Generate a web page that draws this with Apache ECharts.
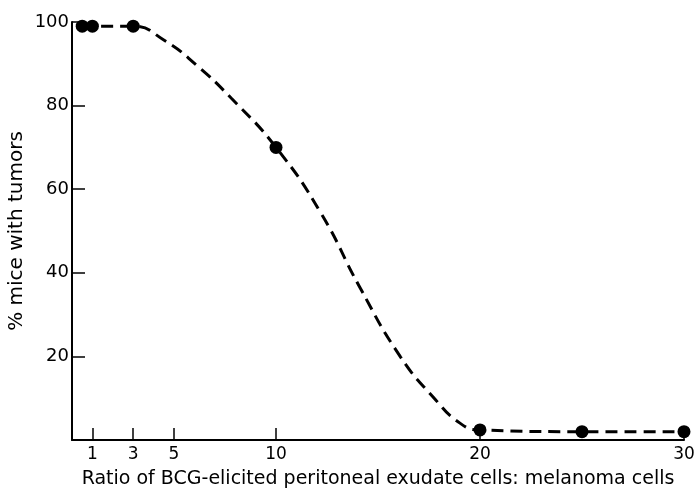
<!DOCTYPE html>
<html>
<head>
<meta charset="utf-8">
<script src="https://cdn.jsdelivr.net/npm/echarts@6/dist/echarts.min.js"></script>
<style>
html, body { margin: 0; padding: 0; background: #fff; }
#main { width: 696px; height: 493px; }
</style>
</head>
<body>
<div id="main"></div>
<script>
// measured points
var ratioX = [0.5, 1, 3, 10, 20, 25, 30];
var pctY = [99, 99, 99, 70, 2.4, 2, 2];
// dashed curve as drawn in the figure
var curveX = [0.5, 3, 4.5, 6.1, 7.8, 10, 12.2, 14.1, 16.1, 17.7, 19, 20, 25, 30];
var curveY = [99, 99, 95.7, 89.7, 81.8, 70, 54.3, 36.6, 19.9, 10.3, 4.1, 2.4, 2, 2];
var xTicks = [1, 3, 5, 10, 20, 30];
var yTicks = [20, 40, 60, 80, 100];

var pts = [];
for (var i = 0; i < ratioX.length; i++) {
	pts.push([ratioX[i], pctY[i]]);
}
var curve = [];
for (var k = 0; k < curveX.length; k++) {
	curve.push([curveX[k], curveY[k]]);
}

var font = 'DejaVu Sans';
var myChart = echarts.init(document.getElementById('main'));
var option = {
	animation: false,
	grid: {
		left: 72,
		right: 12,
		top: 22,
		bottom: 53,
		containLabel: false,
		outerBoundsMode: 'none'
	},
	xAxis: {
		type: 'value',
		min: 0,
		max: 30,
		name: 'Ratio of BCG-elicited peritoneal exudate cells: melanoma cells',
		nameLocation: 'middle',
		nameGap: 30,
		nameTextStyle: { color: '#000', fontSize: 19, fontFamily: font },
		splitLine: { show: false },
		axisLine: { lineStyle: { color: '#000', width: 2 } },
		axisTick: {
			inside: true,
			length: 12,
			customValues: xTicks,
			lineStyle: { color: '#000', width: 1.5 }
		},
		axisLabel: {
			customValues: xTicks,
			color: '#000',
			fontSize: 17,
			fontFamily: font,
			margin: 6
		}
	},
	yAxis: {
		type: 'value',
		min: 0,
		max: 100,
		name: '% mice with tumors',
		nameLocation: 'middle',
		nameGap: 45,
		nameMoveOverlap: false,
		nameRotate: 90,
		nameTextStyle: { color: '#000', fontSize: 20, fontFamily: font },
		splitLine: { show: false },
		axisLine: { show: true, lineStyle: { color: '#000', width: 2 } },
		axisTick: {
			show: true,
			inside: true,
			length: 13,
			customValues: yTicks,
			lineStyle: { color: '#000', width: 1.5 }
		},
		axisLabel: {
			customValues: yTicks,
			color: '#000',
			fontSize: 18,
			fontFamily: font,
			margin: 3
		}
	},
	series: [{
		type: 'line',
		data: curve,
		smooth: 0.5,
		showSymbol: false,
		lineStyle: { color: '#000', width: 3, type: [12, 7] },
		z: 2
	}, {
		type: 'scatter',
		data: pts,
		symbol: 'circle',
		symbolSize: 13,
		itemStyle: { color: '#000', opacity: 1 },
		z: 3
	}]
};
myChart.setOption(option);
</script>
</body>
</html>
